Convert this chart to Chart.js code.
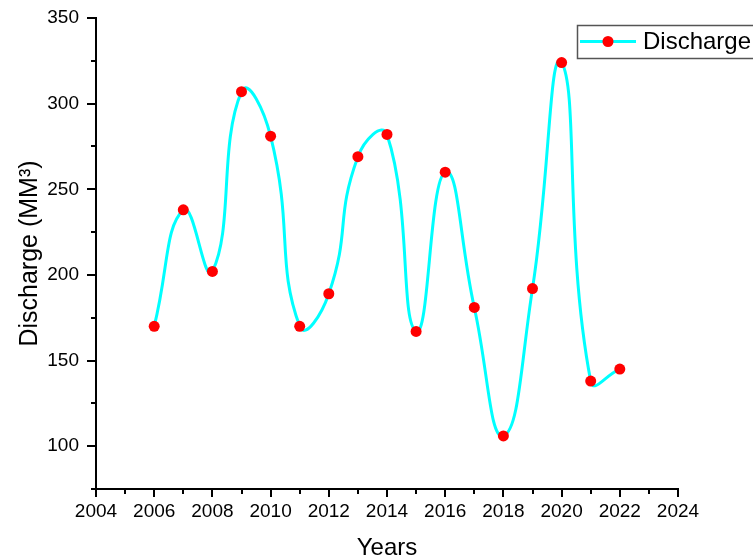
<!DOCTYPE html>
<html>
<head>
<meta charset="utf-8">
<script src="https://cdn.jsdelivr.net/npm/chart.js@4"></script>
<style>
  body { margin: 0; background: #fff; }
  canvas { display: block; }
</style>
</head>
<body>
<canvas id="chart" width="753" height="559"></canvas>
<script>
// values
const years = [2006, 2007, 2008, 2009, 2010, 2011, 2012, 2013, 2014, 2015, 2016, 2017, 2018, 2019, 2020, 2021, 2022];
const discharge = [170, 238, 202, 307, 281, 170, 189, 269, 282, 167, 260, 181, 106, 192, 324, 138, 145];
const xTicks = [2004, 2006, 2008, 2010, 2012, 2014, 2016, 2018, 2020, 2022, 2024];
const yTicks = [100, 150, 200, 250, 300, 350];

const FONT = "'Liberation Sans', Arial, sans-serif";

// draws the major/minor tick marks outside the axes
const tickMarks = {
  id: "tickMarks",
  afterDraw(chart) {
    const ctx = chart.ctx;
    const xs = chart.scales.x;
    const ys = chart.scales.y;
    const area = chart.chartArea;
    ctx.save();
    ctx.strokeStyle = "#000";
    ctx.lineWidth = 2;
    ctx.beginPath();
    for (let v = 2004; v <= 2024; v++) {
      const px = Math.round(xs.getPixelForValue(v));
      const len = xTicks.includes(v) ? 8 : 5;
      ctx.moveTo(px, area.bottom);
      ctx.lineTo(px, area.bottom + len);
    }
    for (let v = 75; v <= 350; v += 25) {
      const py = Math.round(ys.getPixelForValue(v));
      const len = yTicks.includes(v) ? 9 : 5;
      ctx.moveTo(area.left, py);
      ctx.lineTo(area.left - len, py);
    }
    ctx.stroke();
    ctx.restore();
  },
};

// legend box in the top right, like the original
const boxLegend = {
  id: "boxLegend",
  afterDraw(chart) {
    const ds = chart.data.datasets[0];
    const ctx = chart.ctx;
    ctx.save();
    ctx.fillStyle = "#fff";
    ctx.fillRect(577, 25, 190, 33);
    ctx.strokeStyle = "#555";
    ctx.lineWidth = 1.5;
    ctx.strokeRect(577.5, 25.5, 190, 33);

    ctx.strokeStyle = ds.borderColor;
    ctx.lineWidth = 3;
    ctx.beginPath();
    ctx.moveTo(580, 41.5);
    ctx.lineTo(636, 41.5);
    ctx.stroke();

    ctx.fillStyle = ds.pointBackgroundColor;
    ctx.beginPath();
    ctx.arc(608, 41.5, 5.5, 0, Math.PI * 2);
    ctx.fill();

    ctx.fillStyle = "#000";
    ctx.font = "24px " + FONT;
    ctx.textBaseline = "middle";
    ctx.fillText(ds.label, 643, 42);
    ctx.restore();
  },
};

new Chart(document.getElementById("chart"), {
  type: "line",
  data: {
    datasets: [
      {
        label: "Discharge",
        data: years.map((y, i) => ({ x: y, y: discharge[i] })),
        borderColor: "#00FFFF",
        borderWidth: 3,
        tension: 0.5,
        pointRadius: 5.5,
        pointBackgroundColor: "#FF0000",
        pointBorderColor: "#FF0000",
        pointBorderWidth: 0,
        clip: false,
      },
    ],
  },
  options: {
    responsive: false,
    animation: false,
    layout: { padding: { left: 0, top: 18, right: 75, bottom: 0 } },
    plugins: {
      legend: { display: false },
      tooltip: { enabled: false },
    },
    scales: {
      x: {
        type: "linear",
        min: 2004,
        max: 2024,
        afterBuildTicks: (scale) => {
          scale.ticks = xTicks.map((v) => ({ value: v }));
        },
        afterFit: (scale) => {
          scale.height = 70;
        },
        ticks: {
          font: { family: FONT, size: 19 },
          color: "#000",
          padding: 11,
          maxRotation: 0,
          callback: (v) => String(v),
        },
        grid: { display: false, drawTicks: false },
        border: { display: true, color: "#000", width: 2 },
        title: {
          display: true,
          text: "Years",
          font: { family: FONT, size: 24 },
          color: "#000",
          padding: { top: 0, bottom: -4 },
        },
      },
      y: {
        min: 75,
        max: 350,
        afterBuildTicks: (scale) => {
          scale.ticks = yTicks.map((v) => ({ value: v }));
        },
        afterFit: (scale) => {
          scale.width = 96;
          scale.paddingTop = 0;
          scale.paddingBottom = 0;
        },
        ticks: {
          font: { family: FONT, size: 19 },
          color: "#000",
          padding: 17,
        },
        grid: { display: false, drawTicks: false },
        border: { display: true, color: "#000", width: 2 },
        title: {
          display: true,
          text: "Discharge (MM³)",
          font: { family: FONT, size: 25 },
          color: "#000",
          padding: { top: 15, bottom: 0 },
        },
      },
    },
  },
  plugins: [tickMarks, boxLegend],
});
</script>
</body>
</html>
